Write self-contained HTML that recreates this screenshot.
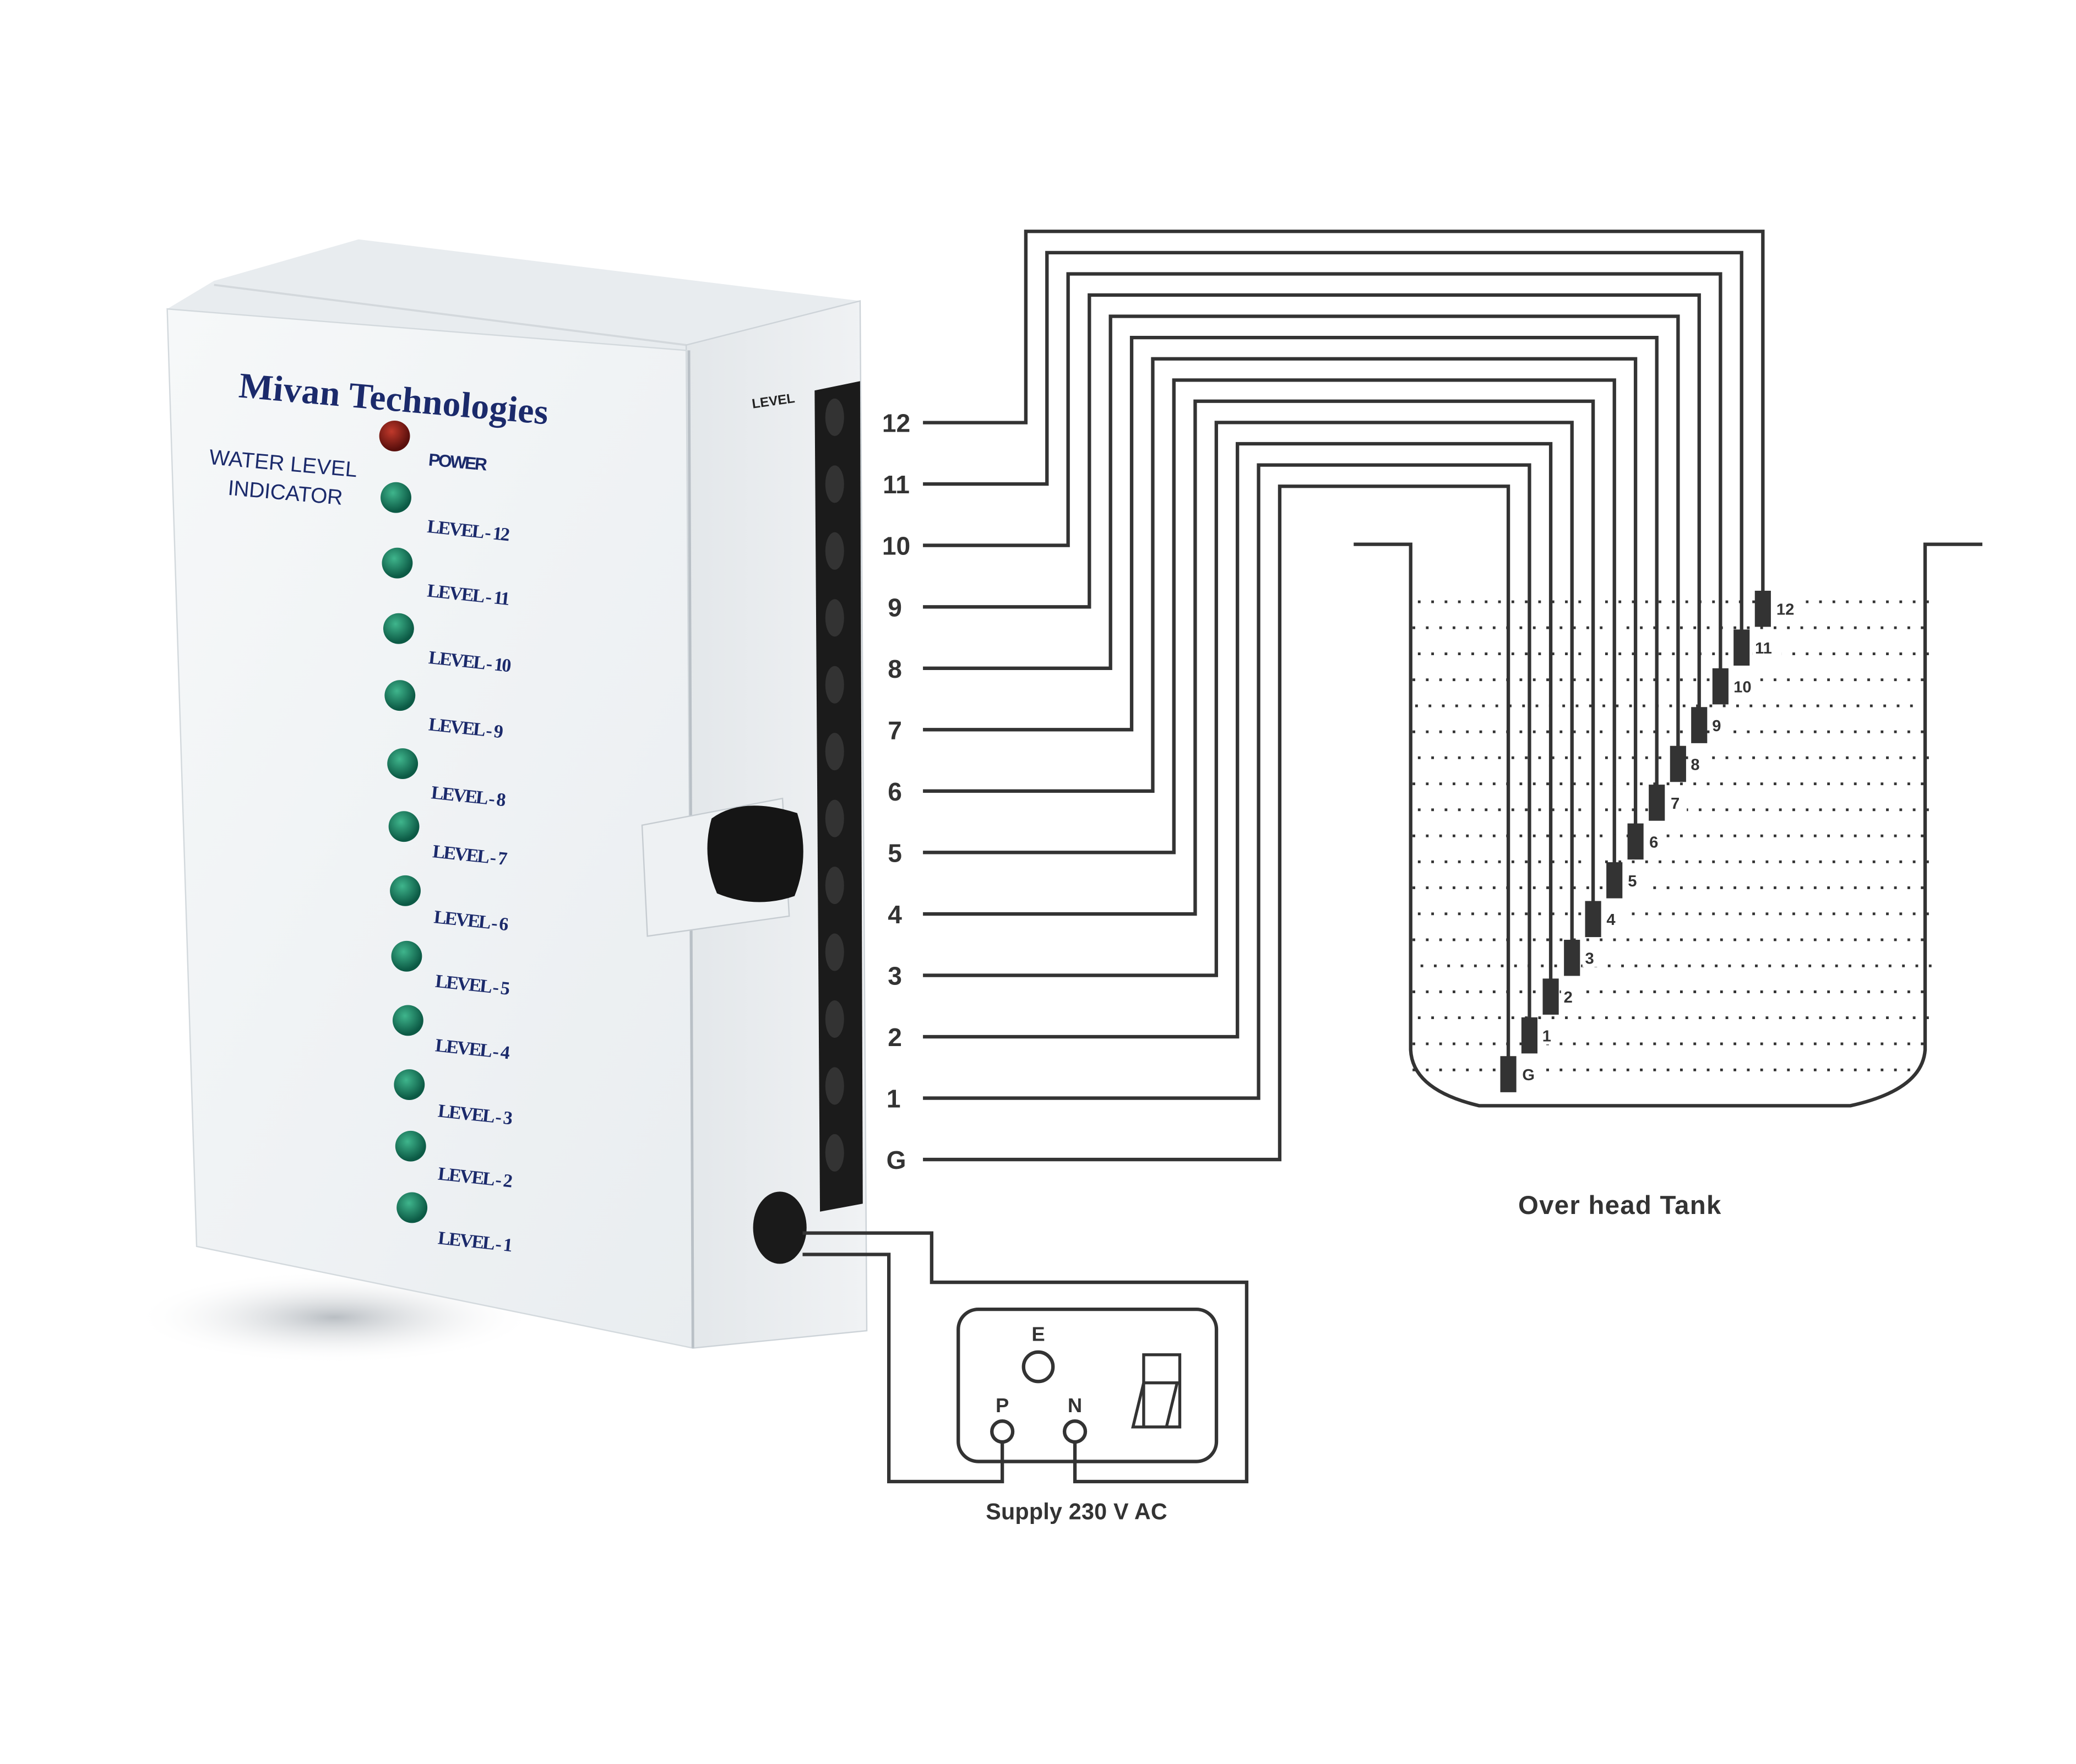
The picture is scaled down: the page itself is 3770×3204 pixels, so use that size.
<!DOCTYPE html>
<html><head><meta charset="utf-8"><style>
html,body{margin:0;padding:0;background:#fff;}
svg{display:block;}
</style></head><body>
<svg width="3770" height="3204" viewBox="0 0 1552 1319" preserveAspectRatio="none" xmlns="http://www.w3.org/2000/svg">
<defs>
<linearGradient id="side" x1="0" x2="1"><stop offset="0" stop-color="#e3e7ea"/><stop offset="1" stop-color="#f0f2f4"/></linearGradient>
<linearGradient id="front" x1="0" x2="1" y1="0" y2="1"><stop offset="0" stop-color="#f6f8f9"/><stop offset="1" stop-color="#e9edf0"/></linearGradient>
<radialGradient id="shadow" cx="0.5" cy="0.5" r="0.5"><stop offset="0" stop-color="#b9bec3"/><stop offset="1" stop-color="#ffffff" stop-opacity="0"/></radialGradient>
<radialGradient id="gled" cx="0.4" cy="0.35" r="0.6"><stop offset="0" stop-color="#3fb58c"/><stop offset="1" stop-color="#0c5a45"/></radialGradient>
<radialGradient id="rled" cx="0.4" cy="0.35" r="0.6"><stop offset="0" stop-color="#c0392b"/><stop offset="1" stop-color="#5a0f0c"/></radialGradient>
</defs>
<rect width="1552" height="1319" fill="#fff"/>
<ellipse cx="250" cy="985" rx="150" ry="35" fill="url(#shadow)"/>
<polygon points="125,231 160,210 268,179 643,225 513,262" fill="#e8ecef"/>
<line x1="160" y1="213" x2="513" y2="258" stroke="#d3d8dc" stroke-width="1.5"/>
<polygon points="513,258 643,225 648,995 518,1008" fill="url(#side)" stroke="#cdd3d8" stroke-width="1"/>
<polygon points="125,231 513,262 518,1008 147,932" fill="url(#front)" stroke="#d3d9dd" stroke-width="1"/>
<line x1="515" y1="262" x2="518" y2="1008" stroke="#b9c0c6" stroke-width="2"/>
<polygon points="609,292 643,285 645,900 613,906" fill="#1b1b1b"/>
<g fill="#333">
<ellipse cx="624" cy="312" rx="7" ry="14"/><ellipse cx="624" cy="362" rx="7" ry="14"/><ellipse cx="624" cy="412" rx="7" ry="14"/><ellipse cx="624" cy="462" rx="7" ry="14"/><ellipse cx="624" cy="512" rx="7" ry="14"/><ellipse cx="624" cy="562" rx="7" ry="14"/><ellipse cx="624" cy="612" rx="7" ry="14"/><ellipse cx="624" cy="662" rx="7" ry="14"/><ellipse cx="624" cy="712" rx="7" ry="14"/><ellipse cx="624" cy="762" rx="7" ry="14"/><ellipse cx="624" cy="812" rx="7" ry="14"/><ellipse cx="624" cy="862" rx="7" ry="14"/>
</g>
<text x="562" y="304" font-family="Liberation Sans, sans-serif" font-size="10" font-weight="bold" fill="#222" transform="rotate(-8 572 300)">LEVEL</text>
<polygon points="480,617 585,597 590,685 484,700" fill="#eef1f3" stroke="#c6ccd1"/>
<path d="M532,612 Q555,595 596,608 Q606,640 594,670 Q565,680 536,668 Q524,640 532,612Z" fill="#151515"/>
<ellipse cx="583" cy="918" rx="20" ry="27" fill="#1a1a1a"/>
<text x="178" y="297" font-family="Liberation Serif, serif" font-weight="bold" font-size="27" fill="#1b2a6b" textLength="232" transform="rotate(5 178 297)">Mivan Technologies</text>
<text x="156" y="347" font-family="Liberation Sans, sans-serif" font-size="16" fill="#1b2a6b" textLength="111" transform="rotate(5 156 347)">WATER LEVEL</text>
<text x="170" y="370" font-family="Liberation Sans, sans-serif" font-size="16" fill="#1b2a6b" textLength="86" transform="rotate(5 170 370)">INDICATOR</text>
<circle cx="295" cy="326" r="11.5" fill="url(#rled)"/>
<text x="320" y="348" font-family="Liberation Sans, sans-serif" font-weight="bold" font-size="13" fill="#1b2a6b" textLength="44" transform="rotate(5 320 348)">POWER</text>
<g font-family="Liberation Serif, serif" font-weight="bold" font-size="14" fill="#1b2a6b">
<circle cx="296" cy="372" r="11.5" fill="url(#gled)"/><text x="319" y="398" textLength="62" transform="rotate(6 319 398)">LEVEL - 12</text>
<circle cx="297" cy="421" r="11.5" fill="url(#gled)"/><text x="319" y="446" textLength="62" transform="rotate(6 319 446)">LEVEL - 11</text>
<circle cx="298" cy="470" r="11.5" fill="url(#gled)"/><text x="320" y="496" textLength="62" transform="rotate(6 320 496)">LEVEL - 10</text>
<circle cx="299" cy="520" r="11.5" fill="url(#gled)"/><text x="320" y="546" textLength="56" transform="rotate(6 320 546)">LEVEL - 9</text>
<circle cx="301" cy="571" r="11.5" fill="url(#gled)"/><text x="322" y="597" textLength="56" transform="rotate(6 322 597)">LEVEL - 8</text>
<circle cx="302" cy="618" r="11.5" fill="url(#gled)"/><text x="323" y="641" textLength="56" transform="rotate(6 323 641)">LEVEL - 7</text>
<circle cx="303" cy="666" r="11.5" fill="url(#gled)"/><text x="324" y="690" textLength="56" transform="rotate(6 324 690)">LEVEL - 6</text>
<circle cx="304" cy="715" r="11.5" fill="url(#gled)"/><text x="325" y="738" textLength="56" transform="rotate(6 325 738)">LEVEL - 5</text>
<circle cx="305" cy="763" r="11.5" fill="url(#gled)"/><text x="325" y="786" textLength="56" transform="rotate(6 325 786)">LEVEL - 4</text>
<circle cx="306" cy="811" r="11.5" fill="url(#gled)"/><text x="327" y="835" textLength="56" transform="rotate(6 327 835)">LEVEL - 3</text>
<circle cx="307" cy="857" r="11.5" fill="url(#gled)"/><text x="327" y="882" textLength="56" transform="rotate(6 327 882)">LEVEL - 2</text>
<circle cx="308" cy="903" r="11.5" fill="url(#gled)"/><text x="327" y="930" textLength="56" transform="rotate(6 327 930)">LEVEL - 1</text>
</g>
<g fill="none" stroke="#333" stroke-width="2.6">
<path d="M690,316 H766.9 V173 H1317.9 V442"/>
<path d="M690,361.9 H782.7 V188.9 H1302 V471"/>
<path d="M690,407.8 H798.5 V204.8 H1286.2 V500"/>
<path d="M690,453.8 H814.4 V220.6 H1270.3 V529"/>
<path d="M690,499.7 H830.2 V236.5 H1254.5 V558"/>
<path d="M690,545.6 H846 V252.4 H1238.6 V587"/>
<path d="M690,591.5 H861.8 V268.3 H1222.7 V616"/>
<path d="M690,637.4 H877.6 V284.2 H1206.9 V645"/>
<path d="M690,683.4 H893.5 V300 H1191 V674"/>
<path d="M690,729.3 H909.3 V315.9 H1175.2 V703"/>
<path d="M690,775.2 H925.1 V331.8 H1159.3 V732"/>
<path d="M690,821.1 H940.9 V347.7 H1143.4 V761"/>
<path d="M690,867 H956.7 V363.6 H1127.6 V790"/>
<path d="M1012,407 H1054.6 V785 Q1056,815 1105.9,826.8 H1383.3 Q1437,815 1439.2,785 V407 H1482"/>
<path d="M600,922 H696.5 V958.8 H932 V1107.8 H803.6 V1078"/>
<path d="M600,938 H664.5 V1107.8 H749.3 V1078"/>
<rect x="716.4" y="979" width="193" height="113.8" rx="15"/>
<circle cx="776.2" cy="1022" r="11"/>
<circle cx="749.3" cy="1070.4" r="7.8"/>
<circle cx="803.6" cy="1070.4" r="7.8"/>
<rect x="855" y="1013" width="27" height="54" stroke-width="2.2"/>
<path d="M855,1034 H882 M855,1034 L847,1067 H882 M880,1034 L872,1067" stroke-width="2.2"/>
</g>
<g stroke="#333" stroke-width="2" stroke-dasharray="2 8">
<line x1="1060" y1="450" x2="1447" y2="450"/><line x1="1056" y1="469.4" x2="1443" y2="469.4"/><line x1="1060" y1="488.9" x2="1447" y2="488.9"/><line x1="1056" y1="508.3" x2="1443" y2="508.3"/><line x1="1058" y1="527.8" x2="1447" y2="527.8"/><line x1="1056" y1="547.2" x2="1443" y2="547.2"/><line x1="1060" y1="566.6" x2="1447" y2="566.6"/><line x1="1056" y1="586.1" x2="1443" y2="586.1"/><line x1="1060" y1="605.5" x2="1447" y2="605.5"/><line x1="1056" y1="625" x2="1443" y2="625"/><line x1="1060" y1="644.4" x2="1447" y2="644.4"/><line x1="1056" y1="663.8" x2="1443" y2="663.8"/><line x1="1060" y1="683.3" x2="1447" y2="683.3"/><line x1="1056" y1="702.7" x2="1443" y2="702.7"/><line x1="1062" y1="722.2" x2="1449" y2="722.2"/><line x1="1056" y1="741.6" x2="1443" y2="741.6"/><line x1="1060" y1="761" x2="1447" y2="761"/><line x1="1056" y1="780.5" x2="1443" y2="780.5"/><line x1="1056" y1="800" x2="1436" y2="800"/>
</g>
<g fill="#333">
<rect x="1311.9" y="441.7" width="12" height="27"/><rect x="1296" y="470.7" width="12" height="27"/><rect x="1280.2" y="499.7" width="12" height="27"/><rect x="1264.3" y="528.7" width="12" height="27"/><rect x="1248.5" y="557.7" width="12" height="27"/><rect x="1232.6" y="586.7" width="12" height="27"/><rect x="1216.7" y="615.7" width="12" height="27"/><rect x="1200.9" y="644.7" width="12" height="27"/><rect x="1185" y="673.7" width="12" height="27"/><rect x="1169.2" y="702.7" width="12" height="27"/><rect x="1153.3" y="731.7" width="12" height="27"/><rect x="1137.4" y="760.7" width="12" height="27"/><rect x="1121.6" y="789.7" width="12" height="27"/>
</g>
<g font-family="Liberation Sans, sans-serif" font-weight="bold" font-size="12" fill="#333">
<rect x="1326" y="446" width="24" height="16" fill="#fff"/><text x="1328" y="459.7">12</text>
<rect x="1310" y="475" width="22" height="16" fill="#fff"/><text x="1312" y="488.7">11</text>
<rect x="1294" y="504" width="22" height="16" fill="#fff"/><text x="1296" y="517.7">10</text>
<rect x="1278" y="533" width="14" height="16" fill="#fff"/><text x="1280" y="546.7">9</text>
<rect x="1262" y="562" width="14" height="16" fill="#fff"/><text x="1264" y="575.7">8</text>
<rect x="1247" y="591" width="14" height="16" fill="#fff"/><text x="1249" y="604.7">7</text>
<rect x="1231" y="620" width="14" height="16" fill="#fff"/><text x="1233" y="633.7">6</text>
<rect x="1215" y="649" width="14" height="16" fill="#fff"/><text x="1217" y="662.7">5</text>
<rect x="1199" y="678" width="14" height="16" fill="#fff"/><text x="1201" y="691.7">4</text>
<rect x="1183" y="707" width="14" height="16" fill="#fff"/><text x="1185" y="720.7">3</text>
<rect x="1167" y="736" width="14" height="16" fill="#fff"/><text x="1169" y="749.7">2</text>
<rect x="1151" y="765" width="14" height="16" fill="#fff"/><text x="1153" y="778.7">1</text>
<rect x="1136" y="794" width="16" height="16" fill="#fff"/><text x="1138" y="807.7">G</text>
</g>
<g font-family="Liberation Sans, sans-serif" font-weight="bold" font-size="19" fill="#333" text-anchor="middle">
<text x="670" y="323">12</text><text x="670" y="368.9">11</text><text x="670" y="414.8">10</text><text x="669" y="460.8">9</text><text x="669" y="506.7">8</text><text x="669" y="552.6">7</text><text x="669" y="598.5">6</text><text x="669" y="644.4">5</text><text x="669" y="690.4">4</text><text x="669" y="736.3">3</text><text x="669" y="782.2">2</text><text x="668" y="828.1">1</text><text x="670" y="874">G</text>
</g>
<g font-family="Liberation Sans, sans-serif" font-weight="bold" fill="#333">
<text x="1135" y="907.7" font-size="19.5" textLength="151.6">Over head Tank</text>
<text x="737" y="1136" font-size="17" textLength="135.6">Supply 230 V AC</text>
<text x="776.2" y="1002.7" font-size="15" text-anchor="middle">E</text>
<text x="749.3" y="1056" font-size="15" text-anchor="middle">P</text>
<text x="803.6" y="1056" font-size="15" text-anchor="middle">N</text>
</g>
</svg>
</body></html>
